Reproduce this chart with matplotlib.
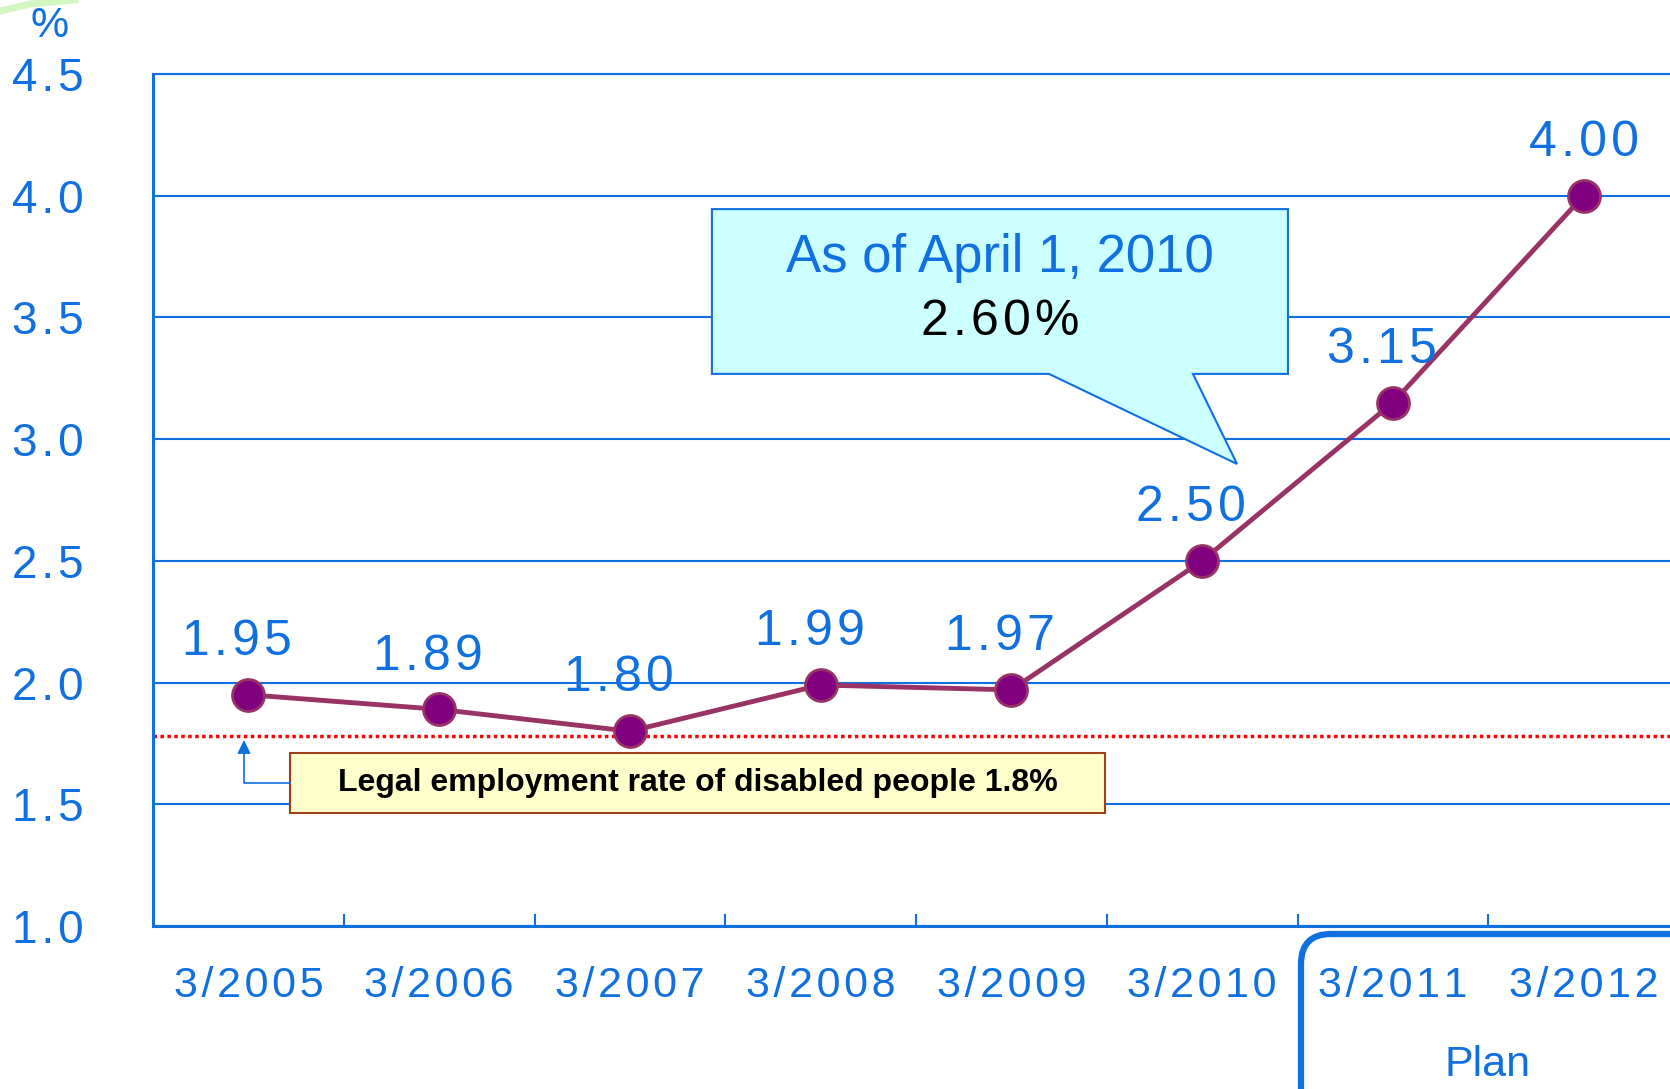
import matplotlib; matplotlib.use("Agg")
import matplotlib.pyplot as plt
from matplotlib.patches import Rectangle, Polygon, FancyBboxPatch
from matplotlib.lines import Line2D

plt.rcParams["font.family"] = ["Liberation Sans", "DejaVu Sans"]

BLUE = "#1070E0"
LINE = "#993366"
DOT = "#800080"

periods = ["3/2005", "3/2006", "3/2007", "3/2008", "3/2009", "3/2010", "3/2011", "3/2012"]
rates = [1.95, 1.89, 1.80, 1.99, 1.97, 2.50, 3.15, 4.00]
yticks = [1.0, 1.5, 2.0, 2.5, 3.0, 3.5, 4.0, 4.5]
legal_rate = 1.78   # dotted line as drawn in the picture
legal_text = "Legal employment rate of disabled people 1.8%"
callout_title = "As of April 1, 2010"
callout_value = "2.60%"
plan_text = "Plan"


def spaced(s):
    # the original uses loose letter spacing on its numbers
    return "\u200a".join(s)


fig = plt.figure(figsize=(16.7, 10.89), dpi=100)
ax = fig.add_axes([153/1670, 1 - 926/1089, (1679 - 153)/1670, (926 - 74)/1089])
ax.set_xlim(0, len(periods))
ax.set_ylim(yticks[0], yticks[-1])

xs = [i + 0.5 for i in range(len(periods))]

# grid + spines
ax.set_yticks(yticks)
ax.set_yticklabels([spaced(f"{t:.1f}") for t in yticks])
ax.yaxis.grid(True, color=BLUE, lw=1.5)
ax.set_axisbelow(True)
ax.spines["right"].set_visible(False)
for s in ("left", "bottom", "top"):
    ax.spines[s].set_color(BLUE)
ax.spines["left"].set_linewidth(2.2)
ax.spines["bottom"].set_linewidth(2.2)
ax.spines["top"].set_linewidth(1.5)
ax.tick_params(axis="y", length=0, pad=50, labelsize=33, labelcolor=BLUE)

ax.set_xticks(range(1, len(periods)))
ax.set_xticklabels([])
ax.set_xticks(xs, minor=True)
ax.set_xticklabels([spaced(p) for p in periods], minor=True)
ax.tick_params(axis="x", which="major", direction="in", length=9, width=1.5, color=BLUE)
ax.tick_params(axis="x", which="minor", length=0, pad=29, labelsize=31, labelcolor=BLUE)

# legal rate line and box
ax.axhline(legal_rate, color="#FF0000", lw=2.5, ls=(0, (1, 1)), zorder=2)
ax.add_patch(Rectangle((0.718, 1.464), 4.99 - 0.718, 1.711 - 1.464,
                       facecolor="#FFFFCC", edgecolor="#A0401A", lw=1.5, zorder=3))
ax.text((0.718 + 4.99) / 2, 1.588, legal_text, ha="center", va="center",
        fontsize=23, fontweight="bold", color="black", zorder=4)
ax.plot([0.718, 0.477, 0.477], [1.587, 1.587, 1.72], color=BLUE, lw=1.2, zorder=3)
ax.annotate("", xy=(0.477, legal_rate - 0.005), xytext=(0.477, 1.70),
            arrowprops=dict(arrowstyle="-|>", color=BLUE, lw=1.2, mutation_scale=20), zorder=3)

# callout
ax.add_patch(Polygon([(2.93, 3.945), (5.95, 3.945), (5.95, 3.268), (5.452, 3.268),
                      (5.683, 2.898), (4.697, 3.268), (2.93, 3.268)],
                     closed=True, facecolor="#CCFFFF", edgecolor=BLUE, lw=1.5, zorder=3))
ax.text(4.44, 3.745, callout_title, ha="center", va="center", fontsize=38, color=BLUE, zorder=4)
ax.text(4.44, 3.48, spaced(callout_value), ha="center", va="center", fontsize=36,
        color="black", zorder=4)

# data line
ax.plot(xs, rates, color=LINE, lw=3.5, zorder=5)
ax.plot(xs, rates, ls="none", marker="o", ms=23, mfc=DOT, mec=LINE, mew=2, zorder=6, clip_on=False)
for i, (x, v) in enumerate(zip(xs, rates)):
    dx = 0 if i == len(rates) - 1 else -8
    ax.annotate(spaced(f"{v:.2f}"), (x, v), xytext=(dx, 38), textcoords="offset points",
                ha="center", va="center", fontsize=36, color=BLUE, zorder=6)

# percent sign
fig.text(50/1670, 1 - 26/1089, "%", ha="center", va="center", fontsize=31, color=BLUE)

# plan box
fig.add_artist(FancyBboxPatch((13.01, -0.4), 4.2, 1.95, boxstyle="round,pad=0,rounding_size=0.3",
                              transform=fig.dpi_scale_trans, facecolor="none", edgecolor=BLUE,
                              lw=4.5, clip_on=False))
fig.text(1487/1670, 1 - 1065/1089, plan_text, ha="center", va="center", fontsize=31, color=BLUE)

# little green arc at the corner
fig.add_artist(Line2D([0, 0.3, 0.75], [10.78, 10.85, 10.89], transform=fig.dpi_scale_trans,
                      color="#D2F7C0", lw=5))

fig.savefig("out.png", dpi=100)
